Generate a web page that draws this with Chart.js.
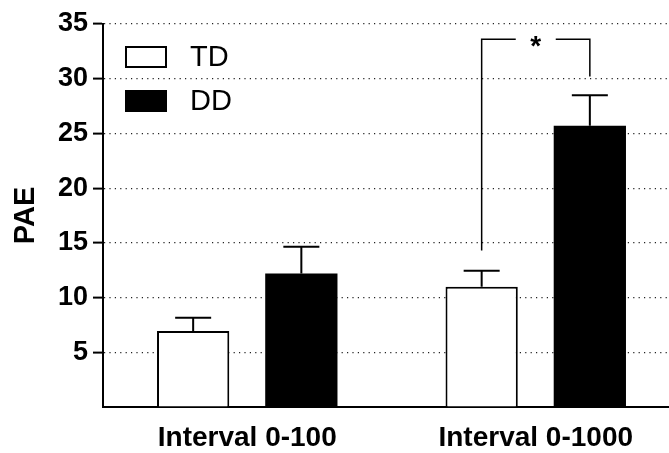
<!DOCTYPE html>
<html>
<head>
<meta charset="utf-8">
<script src="https://cdn.jsdelivr.net/npm/chart.js@4/dist/chart.umd.min.js"></script>
<style>
  html, body { margin: 0; padding: 0; background: #fff; overflow: hidden; }
  #wrap { width: 680px; height: 453px; }
</style>
</head>
<body>
<div id="wrap"><canvas id="c" width="680" height="453"></canvas></div>
<script>
// Categories and series
const categories = ['Interval 0-100', 'Interval 0-1000'];
const seriesNames = ['TD', 'DD'];
const tdValues = [6.95, 11.0];
const ddValues = [12.2, 25.7];
// Upper error (SEM) for each bar
const tdErrors = [1.2, 1.45];
const ddErrors = [2.45, 2.8];
// Y axis tick values
const yTicks = [0, 5, 10, 15, 20, 25, 30, 35];
// Significance bracket between TD and DD in the second group (data units)
const bracketLevels = { leftFoot: 14.3, top: 33.6, rightFoot: 30.2 };
const bracketLabel = '*';

const FONT = "'Liberation Sans', Arial, sans-serif";
Chart.defaults.font.family = FONT;
Chart.defaults.color = '#000';

// Upward error bars with caps
const errorBars = {
  id: 'errorBars',
  afterDatasetsDraw(chart) {
    const ctx = chart.ctx;
    const ys = chart.scales.y;
    ctx.save();
    ctx.strokeStyle = '#000';
    ctx.lineWidth = 2;
    chart.data.datasets.forEach((ds, di) => {
      const meta = chart.getDatasetMeta(di);
      meta.data.forEach((bar, i) => {
        const top = ys.getPixelForValue(ds.data[i] + ds.errors[i]);
        const half = 18;
        ctx.beginPath();
        ctx.moveTo(bar.x, bar.y);
        ctx.lineTo(bar.x, top);
        ctx.moveTo(bar.x - half, top);
        ctx.lineTo(bar.x + half, top);
        ctx.stroke();
      });
    });
    ctx.restore();
  }
};

// Bracket with significance marker
const sigBracket = {
  id: 'sigBracket',
  afterDatasetsDraw(chart, args, opts) {
    const ctx = chart.ctx;
    const ys = chart.scales.y;
    const a = chart.getDatasetMeta(0).data[opts.index];
    const b = chart.getDatasetMeta(1).data[opts.index];
    const yTop = ys.getPixelForValue(opts.levels.top);
    const yL = ys.getPixelForValue(opts.levels.leftFoot);
    const yR = ys.getPixelForValue(opts.levels.rightFoot);
    const mid = (a.x + b.x) / 2;
    const gap = 20;
    ctx.save();
    ctx.strokeStyle = '#000';
    ctx.lineWidth = 1.5;
    ctx.beginPath();
    ctx.moveTo(a.x, yL);
    ctx.lineTo(a.x, yTop);
    ctx.lineTo(mid - gap, yTop);
    ctx.moveTo(mid + gap, yTop);
    ctx.lineTo(b.x, yTop);
    ctx.lineTo(b.x, yR);
    ctx.stroke();
    ctx.fillStyle = '#000';
    ctx.font = 'bold 28px ' + FONT;
    ctx.textAlign = 'center';
    ctx.textBaseline = 'alphabetic';
    ctx.fillText(opts.label, mid, yTop + 16);
    ctx.restore();
  }
};

// Legend drawn inside the plot area
const innerLegend = {
  id: 'innerLegend',
  afterDraw(chart) {
    const ctx = chart.ctx;
    const area = chart.chartArea;
    const x0 = area.left + 22;
    let y0 = area.top + 22;
    ctx.save();
    ctx.font = '29px ' + FONT;
    ctx.textAlign = 'left';
    ctx.textBaseline = 'middle';
    chart.data.datasets.forEach(ds => {
      ctx.fillStyle = ds.backgroundColor;
      ctx.fillRect(x0, y0, 42, 22);
      ctx.strokeStyle = '#000';
      ctx.lineWidth = 2;
      ctx.strokeRect(x0 + 1, y0 + 1, 40, 20);
      ctx.fillStyle = '#000';
      ctx.fillText(ds.label, x0 + 65, y0 + 12);
      y0 += 44;
    });
    ctx.restore();
  }
};

new Chart(document.getElementById('c'), {
  type: 'bar',
  data: {
    labels: categories,
    datasets: [
      { label: seriesNames[0], data: tdValues, errors: tdErrors,
        backgroundColor: '#ffffff', borderColor: '#000', borderWidth: 2 },
      { label: seriesNames[1], data: ddValues, errors: ddErrors,
        backgroundColor: '#000000', borderColor: '#000', borderWidth: 0 }
    ]
  },
  options: {
    responsive: false,
    animation: false,
    layout: { padding: { top: 24, right: 0, left: 0, bottom: 0 } },
    datasets: { bar: { categoryPercentage: 0.75, barPercentage: 0.668 } },
    scales: {
      x: {
        grid: { display: false, drawTicks: false },
        border: { display: true, color: '#000', width: 2 },
        ticks: { font: { size: 28, weight: 'bold' }, color: '#000', padding: 14 },
        afterFit(s) { s.height = 46; }
      },
      y: {
        min: 0, max: 35,
        afterBuildTicks(s) { s.ticks = yTicks.map(v => ({ value: v })); },
        ticks: {
          font: { size: 27, weight: 'bold' }, color: '#000', padding: 5,
          callback: v => (v === 0 ? '' : String(v))
        },
        grid: {
          color: c => (c.tick && c.tick.value === 0 ? 'rgba(0,0,0,0)' : '#222'),
          tickColor: c => (c.tick && c.tick.value === 0 ? 'rgba(0,0,0,0)' : '#000'),
          lineWidth: 1.2,
          tickWidth: 2,
          tickLength: 10,
          tickBorderDash: []
        },
        border: { display: true, color: '#000', width: 2, dash: [1.2, 4.2] },
        title: {
          display: true, text: 'PAE', color: '#000',
          font: { size: 29, weight: 'bold' }, padding: { top: 9, bottom: 0 }
        },
        afterFit(s) { s.width = 103; }
      }
    },
    plugins: {
      legend: { display: false },
      tooltip: { enabled: false },
      sigBracket: { index: 1, levels: bracketLevels, label: bracketLabel }
    }
  },
  plugins: [errorBars, sigBracket, innerLegend]
});
</script>
</body>
</html>
